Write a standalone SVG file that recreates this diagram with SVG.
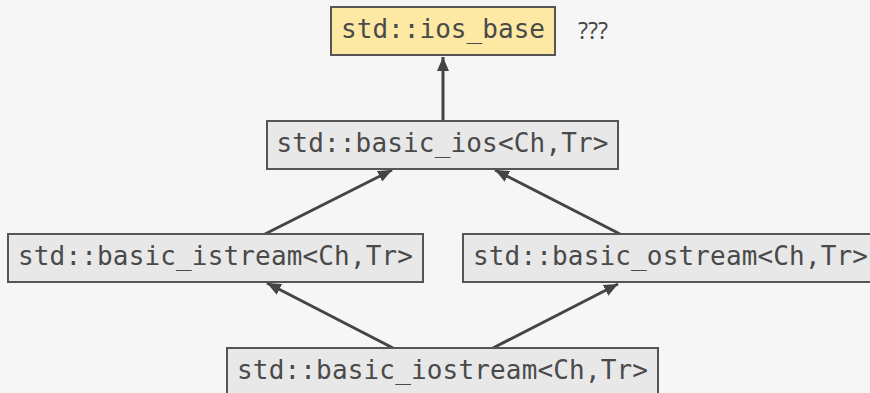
<svg xmlns="http://www.w3.org/2000/svg" width="870" height="393" viewBox="0 0 870 393">
<defs>
<style>
.node rect{fill:#e8e8e8;stroke:#555;stroke-width:2}
.node.hl rect{fill:#fde9a3}
.node text{font-family:"DejaVu Sans Mono","Liberation Mono",monospace;font-size:26px;fill:#4a4a4a}
.edge{stroke:#444;stroke-width:3;fill:none;marker-end:url(#ah)}
.note{font-family:"Open Sans","Liberation Sans",sans-serif;font-size:24px;fill:#444}
</style>
<marker id="ah" viewBox="0 0 14 12" refX="14" refY="6" markerWidth="14" markerHeight="12" markerUnits="userSpaceOnUse" orient="auto">
<path d="M0,0 L14,6 L0,12 z" fill="#444"/>
</marker>
</defs>
<rect width="870" height="393" fill="#f6f6f6"/>
<g id="connectors">
<line class="edge" x1="443" y1="121" x2="443" y2="57"/>
<line class="edge" x1="265" y1="234" x2="392" y2="170"/>
<line class="edge" x1="620" y1="234" x2="495" y2="170"/>
<line class="edge" x1="393" y1="348" x2="267" y2="283"/>
<line class="edge" x1="493" y1="348" x2="618" y2="284"/>
</g>
<g id="ios_base" class="node hl">
<rect x="331" y="7" width="224" height="48"/>
<text x="443" y="38" text-anchor="middle" textLength="204">std::ios_base</text>
</g>
<text class="note" x="578" y="39" textLength="30" lengthAdjust="spacingAndGlyphs">???</text>
<g id="basic_ios" class="node">
<rect x="267" y="121" width="351" height="48"/>
<text x="442.5" y="152" text-anchor="middle" textLength="332">std::basic_ios&lt;Ch,Tr&gt;</text>
</g>
<g id="basic_istream" class="node">
<rect x="8" y="234" width="415" height="48"/>
<text x="215.5" y="265" text-anchor="middle" textLength="395">std::basic_istream&lt;Ch,Tr&gt;</text>
</g>
<g id="basic_ostream" class="node">
<rect x="463" y="234" width="415" height="48"/>
<text x="670.5" y="265" text-anchor="middle" textLength="395">std::basic_ostream&lt;Ch,Tr&gt;</text>
</g>
<g id="basic_iostream" class="node">
<rect x="227" y="348" width="431" height="48"/>
<text x="442.5" y="379" text-anchor="middle" textLength="411">std::basic_iostream&lt;Ch,Tr&gt;</text>
</g>
</svg>
